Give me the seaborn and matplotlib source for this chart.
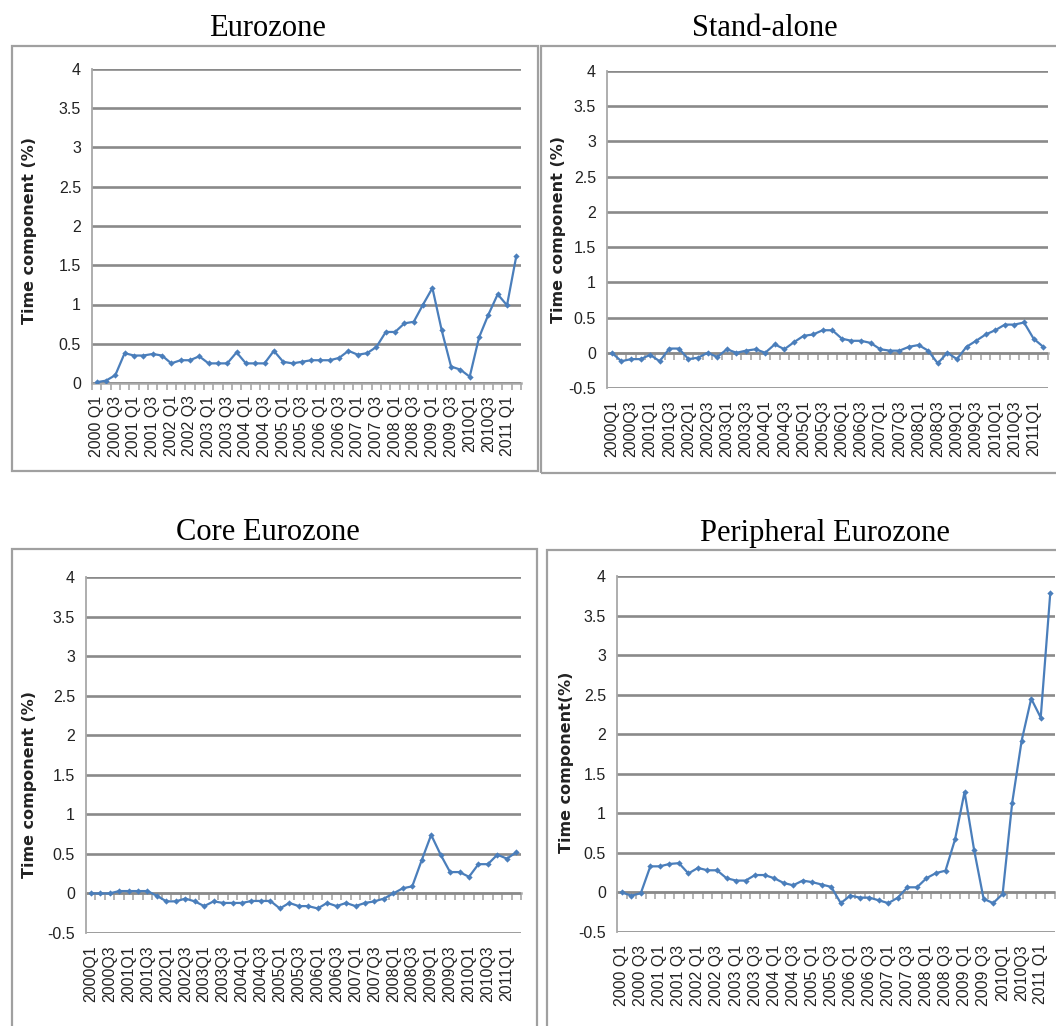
import numpy as np
import matplotlib
matplotlib.use("Agg")
import matplotlib.pyplot as plt
import seaborn as sns
from matplotlib.patches import Rectangle

# ---------------- data ----------------
quarters = [f"{y}Q{q}" for y in range(2000, 2012) for q in range(1, 5)][:46]

euro = [0.01, 0.03, 0.10, 0.38, 0.35, 0.35, 0.37, 0.35, 0.25, 0.29, 0.29, 0.34,
        0.25, 0.25, 0.25, 0.39, 0.25, 0.25, 0.25, 0.41, 0.27, 0.25, 0.27, 0.29,
        0.29, 0.29, 0.32, 0.41, 0.36, 0.38, 0.46, 0.65, 0.65, 0.76, 0.78, 1.00,
        1.21, 0.67, 0.21, 0.17, 0.08, 0.58, 0.87, 1.13, 0.99, 1.62]

standalone = [0.0, -0.12, -0.09, -0.09, -0.03, -0.12, 0.06, 0.06, -0.09, -0.07, 0.0, -0.06,
              0.05, 0.0, 0.03, 0.05, 0.0, 0.12, 0.05, 0.15, 0.24, 0.26, 0.32, 0.32,
              0.20, 0.17, 0.17, 0.14, 0.05, 0.03, 0.03, 0.085, 0.11, 0.03, -0.15, 0.0,
              -0.09, 0.085, 0.17, 0.26, 0.32, 0.40, 0.40, 0.43, 0.20, 0.085]

core = [0.0, 0.0, 0.0, 0.03, 0.03, 0.03, 0.03, -0.03, -0.10, -0.10, -0.065, -0.10,
        -0.16, -0.10, -0.12, -0.12, -0.12, -0.095, -0.095, -0.095, -0.19, -0.12, -0.16, -0.16,
        -0.19, -0.12, -0.16, -0.12, -0.16, -0.12, -0.10, -0.065, 0.0, 0.065, 0.09, 0.42,
        0.74, 0.49, 0.27, 0.27, 0.21, 0.37, 0.37, 0.49, 0.44, 0.52]

periph = [0.0, -0.04, -0.01, 0.33, 0.33, 0.36, 0.37, 0.24, 0.31, 0.28, 0.28, 0.18,
          0.15, 0.15, 0.22, 0.22, 0.18, 0.12, 0.09, 0.15, 0.13, 0.10, 0.07, -0.135,
          -0.04, -0.065, -0.065, -0.10, -0.135, -0.065, 0.065, 0.065, 0.18, 0.245, 0.275, 0.67,
          1.27, 0.54, -0.08, -0.135, -0.02, 1.13, 1.92, 2.45, 2.21, 3.78]

labels_spaced = ["2000 Q1", "2000 Q3", "2001 Q1", "2001 Q3", "2002 Q1", "2002 Q3",
                 "2003 Q1", "2003 Q3", "2004 Q1", "2004 Q3", "2005 Q1", "2005 Q3",
                 "2006 Q1", "2006 Q3", "2007 Q1", "2007 Q3", "2008 Q1", "2008 Q3",
                 "2009 Q1", "2009 Q3", "2010Q1", "2010Q3", "2011 Q1"]
labels_compact = ["2000Q1", "2000Q3", "2001Q1", "2001Q3", "2002Q1", "2002Q3",
                  "2003Q1", "2003Q3", "2004Q1", "2004Q3", "2005Q1", "2005Q3",
                  "2006Q1", "2006Q3", "2007Q1", "2007Q3", "2008Q1", "2008Q3",
                  "2009Q1", "2009Q3", "2010Q1", "2010Q3", "2011Q1"]

titles = ["Eurozone", "Stand-alone", "Core Eurozone", "Peripheral Eurozone"]
ylabels = ["Time component (%)", "Time component (%)", "Time component (%)", "Time component(%)"]
yticks_full = [-0.5, 0, 0.5, 1, 1.5, 2, 2.5, 3, 3.5, 4]

# ---------------- style ----------------
sns.set_style("white")
plt.rcParams["font.family"] = ["DejaVu Sans"]

W, H = 1056, 1026
fig = plt.figure(figsize=(W / 100, H / 100), dpi=100)
fig.patch.set_facecolor("white")

LINE = "#4a7ebb"
GRID = "#8a8a8a"
AXC = "#a8a8a8"
BOX = "#a0a0a0"


def rect(l, r, t, b):
    return [l / W, 1 - b / H, (r - l) / W, (b - t) / H]


panels = [
    dict(data=euro, title=titles[0], ylab=ylabels[0], labels=labels_spaced,
         ax=(92, 521, 69, 383), ymin=0.0, box=(12, 538, 46, 471),
         tpos=(268, 28), ylpos=(30, 231)),
    dict(data=standalone, title=titles[1], ylab=ylabels[1], labels=labels_compact,
         ax=(607, 1048, 71, 388), ymin=-0.5, box=(541, 1060, 46, 473),
         tpos=(765, 28), ylpos=(559, 230)),
    dict(data=core, title=titles[2], ylab=ylabels[2], labels=labels_compact,
         ax=(86, 521, 577, 933), ymin=-0.5, box=(12, 537, 549, 1040),
         tpos=(268, 533), ylpos=(30, 785)),
    dict(data=periph, title=titles[3], ylab=ylabels[3], labels=labels_spaced,
         ax=(617, 1055, 576, 932), ymin=-0.5, box=(547, 1060, 550, 1040),
         tpos=(825, 533), ylpos=(566, 762)),
]

for p in panels:
    l, r, t, b = p["ax"]
    ax = fig.add_axes(rect(l, r, t, b))
    idx = np.arange(len(p["data"]))
    sns.lineplot(x=idx, y=p["data"], ax=ax, color=LINE, linewidth=1.6,
                 marker="D", markersize=3.2, markeredgewidth=0, zorder=5)
    ax.set_xlim(-0.5, len(p["data"]) - 0.5)
    ax.set_ylim(p["ymin"], 4)
    yt = [v for v in yticks_full if v >= p["ymin"]]
    ax.set_yticks(yt)
    ax.set_yticklabels([f"{v:g}" for v in yt],
                       fontfamily="Liberation Sans", fontsize=11.5, color="#222222")
    ax.yaxis.grid(True, color=GRID, linewidth=1.9)
    ax.xaxis.grid(False)
    ax.set_axisbelow(True)
    for s in ["top", "right", "bottom"]:
        ax.spines[s].set_visible(False)
    ax.spines["left"].set_color(AXC)
    ax.spines["left"].set_linewidth(1.3)
    ax.tick_params(axis="y", length=5, color=AXC, width=1.2, pad=3)

    ax.set_xticks(np.arange(0, len(p["data"]), 2))
    ax.set_xticklabels(p["labels"], rotation=90, fontsize=11.5, color="#222222",
                       fontfamily="Liberation Sans")
    ax.tick_params(axis="x", length=0, pad=9)

    # category axis at y = 0 with boundary tick marks
    loc = (0 - p["ymin"]) / (4 - p["ymin"])
    sec = ax.secondary_xaxis(loc)
    sec.set_xticks(np.arange(-0.5, len(p["data"]), 1.0))
    sec.tick_params(axis="x", which="both", bottom=True, top=False, labelbottom=False,
                    labeltop=False, length=5, direction="out", color=AXC, width=1.2)
    for s, sp in sec.spines.items():
        if s == "bottom":
            sp.set_color(AXC)
            sp.set_linewidth(1.8)
        else:
            sp.set_visible(False)

    ax.set_ylabel("")
    fig.text(p["ylpos"][0] / W, 1 - p["ylpos"][1] / H, p["ylab"], rotation=90,
             ha="center", va="center", fontsize=11.5, fontweight="bold", color="#222222")

    fig.text(p["tpos"][0] / W, 1 - p["tpos"][1] / H, p["title"], ha="center", va="center",
             fontsize=22, fontfamily="Liberation Serif", color="black")

    bl, br, bt, bb = p["box"]
    fig.patches.append(Rectangle((bl / W, 1 - bb / H), (br - bl) / W, (bb - bt) / H,
                                 transform=fig.transFigure, fill=False, edgecolor=BOX,
                                 linewidth=1.6, zorder=0))

fig.savefig("out.png", dpi=100, facecolor="white")
